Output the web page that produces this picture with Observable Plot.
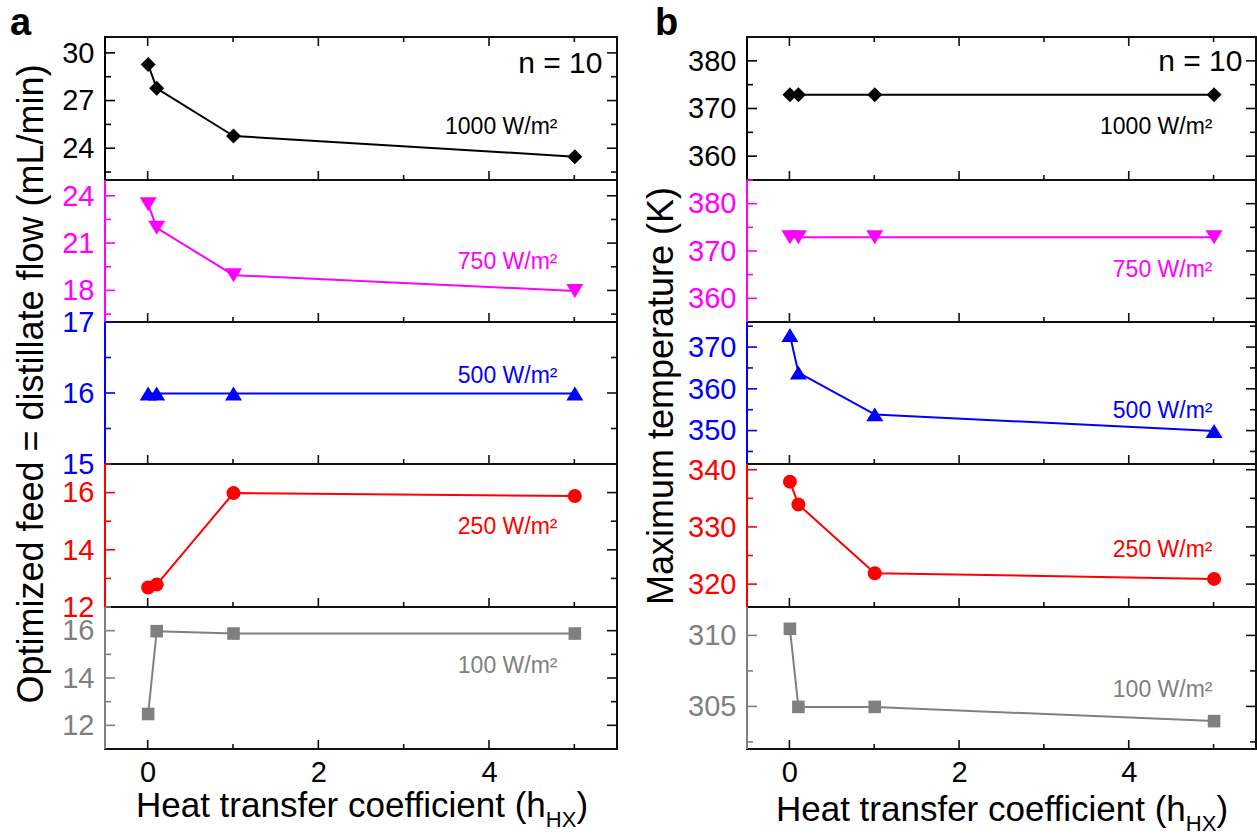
<!DOCTYPE html>
<html><head><meta charset="utf-8">
<script src="https://cdn.jsdelivr.net/npm/d3@7"></script>
<script src="https://cdn.jsdelivr.net/npm/@observablehq/plot@0.6"></script>
<style>
html,body{margin:0;padding:0;background:#fff;}
#root{position:relative;width:1257px;height:835px;overflow:hidden;background:#fff;}
</style></head><body><div id="root"></div>
<script>
// ---------- data ----------
const hHX = [0, 0.1, 1, 5];
const xDomain = [-0.5, 5.5];
const xMajor = [0, 2, 4];
const xMinor = [1, 3, 5];

const fluxLabels = ["1000 W/m²", "750 W/m²", "500 W/m²", "250 W/m²", "100 W/m²"];
const seriesColors = ["#000000", "#ff00ff", "#0000ff", "#ff0000", "#808080"];

// panel a : optimized feed = distillate flow (mL/min)
const flow1000 = [29.3, 27.8, 24.8, 23.5];
const flow750 = [23.5, 22.0, 19.0, 18.0];
const flow500 = [16.0, 16.0, 16.0, 16.0];
const flow250 = [12.7, 12.8, 16.0, 15.9];
const flow100 = [12.5, 16.0, 15.9, 15.9];
const flowDomains = [[22, 31], [16, 25], [15, 17], [12, 17], [11, 17]];
const flowTicks = [[24, 27, 30], [18, 21, 24], [15, 16, 17], [12, 14, 16], [12, 14, 16]];

// panel b : maximum temperature (K)
const temp1000 = [373, 373, 373, 373];
const temp750 = [373, 373, 373, 373];
const temp500 = [373, 364, 354, 350];
const temp250 = [338, 334, 322, 321];
const temp100 = [310.5, 305, 305, 304];
const tempDomains = [[355, 385], [355, 385], [342, 376], [316, 341], [302, 312]];
const tempTicks = [[360, 370, 380], [360, 370, 380], [350, 360, 370], [320, 330, 340], [305, 310]];

// ---------- style ----------
const FONT = "'Liberation Sans', Arial, Helvetica, sans-serif";
const rowTops = [37, 180, 322, 464, 607, 749];

function mk(drawFn) { return {draw(ctx, size) { drawFn(ctx, Math.sqrt(size / Math.PI)); }}; }
const symbols = [
  mk((c, r) => { c.moveTo(0, -r); c.lineTo(r, 0); c.lineTo(0, r); c.lineTo(-r, 0); c.closePath(); }),
  mk((c, r) => { const h = r * 0.82; c.moveTo(-r, -h); c.lineTo(r, -h); c.lineTo(0, h); c.closePath(); }),
  mk((c, r) => { const h = r * 0.82; c.moveTo(-r, h); c.lineTo(r, h); c.lineTo(0, -h); c.closePath(); }),
  d3.symbolCircle,
  mk((c, r) => { c.rect(-r, -r, 2 * r, 2 * r); })
];
const symbolR = [7.5, 8.5, 8.5, 7, 6.3];

function minorOf(ticks, domain) {
  const step = ticks.length > 1 ? ticks[1] - ticks[0] : 1;
  const out = [];
  for (let v = ticks[0] - step / 2 - step * 10; v <= domain[1] + 1e-9; v += step) {
    if (v >= domain[0] - 1e-9) out.push(+v.toFixed(6));
  }
  return out;
}

function frameMark(color, majorY, minorY, isFirst) {
  return (index, scales, values, dims) => {
    const x = scales.x, y = scales.y;
    const L = dims.marginLeft, R = dims.width - dims.marginRight;
    const T = dims.marginTop, B = dims.height - dims.marginBottom;
    const g = d3.create("svg:g").attr("fill", "none");
    const ln = (x1, y1, x2, y2, c, w) => g.append("line")
      .attr("x1", x1).attr("y1", y1).attr("x2", x2).attr("y2", y2)
      .attr("stroke", c).attr("stroke-width", w);
    for (const v of majorY) { ln(L, y(v), L + 10, y(v), color, 1.6); ln(R, y(v), R - 10, y(v), "#111", 1.6); }
    for (const v of minorY) { ln(L, y(v), L + 6, y(v), color, 1.6); ln(R, y(v), R - 6, y(v), "#111", 1.6); }
    for (const v of xMajor) { ln(x(v), B, x(v), B - 9, "#111", 1.6); if (isFirst) ln(x(v), T, x(v), T + 9, "#111", 1.6); }
    for (const v of xMinor) { ln(x(v), B, x(v), B - 5, "#111", 1.6); if (isFirst) ln(x(v), T, x(v), T + 5, "#111", 1.6); }
    ln(L - 1, B, R + 1, B, "#111", 2);
    if (isFirst) ln(L - 1, T, R + 1, T, "#111", 2);
    ln(R, T, R, B, "#111", 2);
    ln(L, T, L, B, color, 2);
    return g.node();
  };
}

const root = document.getElementById("root");

function subplot(p, i) {
  const ML = 80, MR = 10, MT = 12;
  const last = i === 4, first = i === 0;
  const MB = last ? 60 : 12;
  const frameW = p.right - p.left;
  const frameH = rowTops[i + 1] - rowTops[i];
  const color = seriesColors[i];
  const vals = p.series[i];
  const data = hHX.map((h, k) => ({h, v: vals[k]}));
  const domain = p.domains[i];
  const ticks = p.ticks[i];
  const marks = [
    frameMark(color, ticks, minorOf(ticks, domain), first),
    Plot.line(data, {x: "h", y: "v", stroke: color, strokeWidth: 2}),
    Plot.dot(data, {x: "h", y: "v", symbol: symbols[i], r: symbolR[i], fill: color, stroke: "none"}),
    Plot.text([fluxLabels[i]], {text: d => d, frameAnchor: "top-right", textAnchor: "end", lineAnchor: "bottom",
      dx: p.labelDx, dy: p.labelBase[i], fill: color, fontSize: 23}),
    Plot.axisY(ticks, {anchor: "left", tickSize: 0, tickPadding: 11, fontSize: 29, fill: color, label: null,
      tickFormat: d => String(d)})
  ];
  if (first) marks.push(Plot.text(["n = 10"], {text: d => d, frameAnchor: "top-right", textAnchor: "end",
    lineAnchor: "bottom", dx: p.nDx, dy: p.nBase, fill: "#000", fontSize: 30}));
  if (last) marks.push(Plot.axisX(xMajor, {anchor: "bottom", tickSize: 0, tickPadding: 12, fontSize: 29, fill: "#000",
    label: null, tickFormat: d => String(d)}));
  const chart = Plot.plot({
    width: frameW + ML + MR, height: frameH + MT + MB,
    marginLeft: ML, marginRight: MR, marginTop: MT, marginBottom: MB,
    x: {domain: xDomain, axis: last ? undefined : null},
    y: {domain},
    style: {background: "transparent", overflow: "visible", fontFamily: FONT, color: "#000"},
    marks
  });
  chart.style.position = "absolute";
  chart.style.left = (p.left - ML) + "px";
  chart.style.top = (rowTops[i] - MT) + "px";
  chart.style.maxWidth = "none";
  chart.style.overflow = "visible";
  chart.style.background = "transparent";
  root.appendChild(chart);
}

const panelA = {left: 105, right: 617, series: [flow1000, flow750, flow500, flow250, flow100],
  domains: flowDomains, ticks: flowTicks, labelDx: -60, labelBase: [96, 88, 60, 69, 65], nDx: -15, nBase: 35};
const panelB = {left: 747, right: 1256, series: [temp1000, temp750, temp500, temp250, temp100],
  domains: tempDomains, ticks: tempTicks, labelDx: -44, labelBase: [96, 96, 95, 92, 89], nDx: -14, nBase: 33};

// overlay titles
const ov = d3.create("svg").attr("width", 1257).attr("height", 835)
  .style("position", "absolute").style("left", "0px").style("top", "0px")
  .style("font-family", FONT);
ov.append("text").attr("x", 10).attr("y", 35).attr("font-size", 38).attr("font-weight", "bold").text("a");
ov.append("text").attr("x", 655).attr("y", 35).attr("font-size", 38).attr("font-weight", "bold").text("b");
ov.append("text").attr("transform", "translate(43,384) rotate(-90)").attr("text-anchor", "middle")
  .attr("font-size", 36).text("Optimized feed = distillate flow (mL/min)");
ov.append("text").attr("transform", "translate(673,396) rotate(-90)").attr("text-anchor", "middle")
  .attr("font-size", 36).text("Maximum temperature (K)");
function xTitle(cx, base) {
  const t = ov.append("text").attr("x", cx).attr("y", base).attr("text-anchor", "middle").attr("font-size", 35);
  t.append("tspan").text("Heat transfer coefficient (h");
  t.append("tspan").attr("font-size", 22).attr("dy", 10).text("HX");
  t.append("tspan").attr("dy", -10).text(")");
}
xTitle(362, 817);
xTitle(1002, 821);
root.appendChild(ov.node());

for (let i = 0; i < 5; i++) { subplot(panelA, i); subplot(panelB, i); }
</script></body></html>
